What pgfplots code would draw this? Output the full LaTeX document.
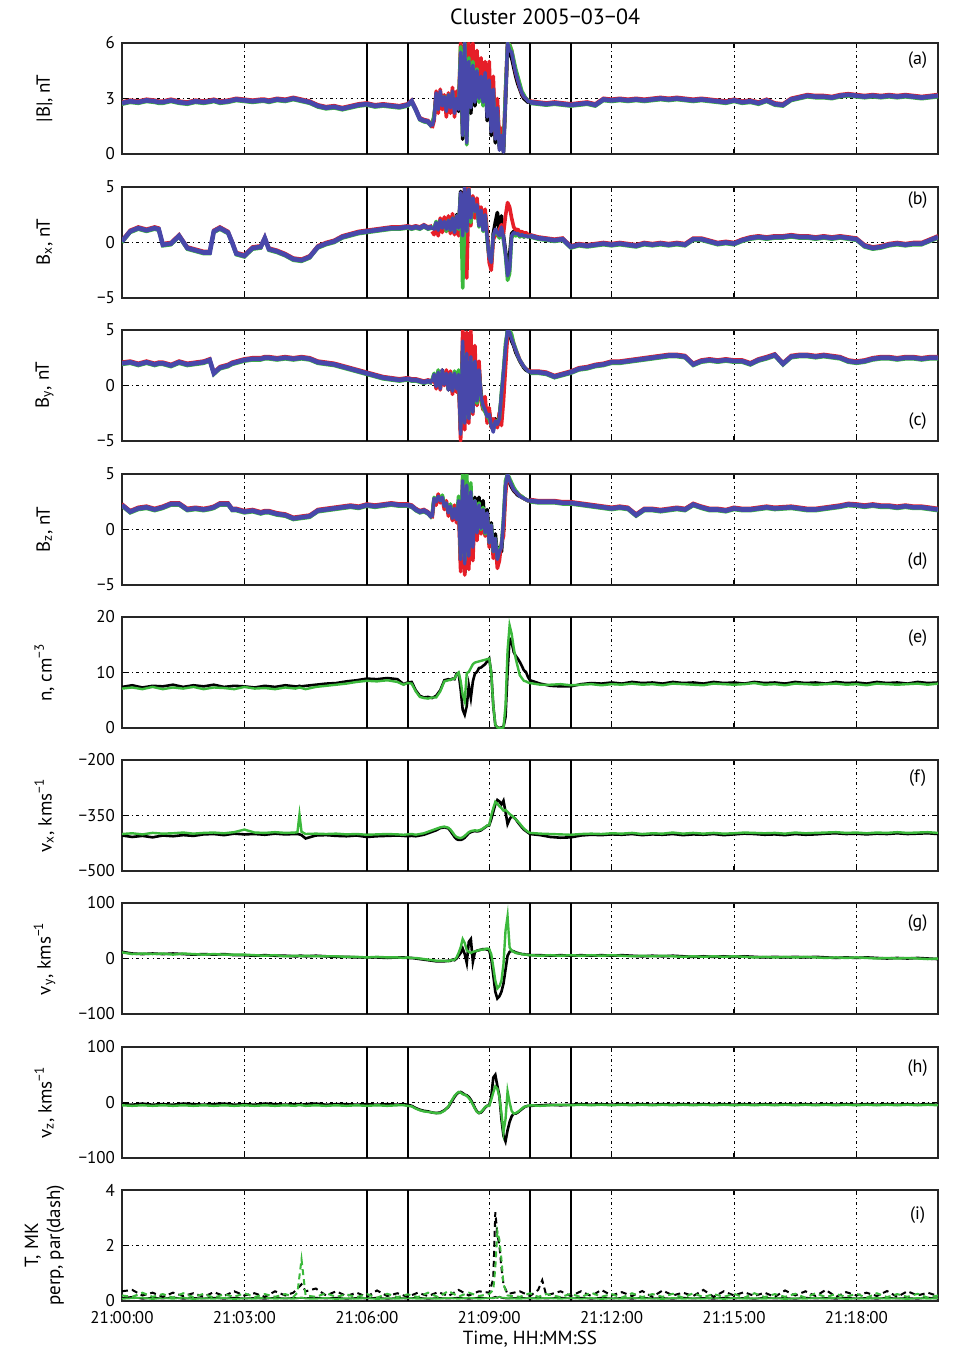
\documentclass[border=0pt]{standalone}
\usepackage{pgfplots}
\usepackage{pgfplotstable}
\pgfplotsset{compat=1.18}
\usepackage{fontspec}
\setmainfont{PT Sans}
\definecolor{cB}{RGB}{72,72,170}
\definecolor{cR}{RGB}{230,30,40}
\definecolor{cG}{RGB}{60,185,60}
\definecolor{cK}{RGB}{0,0,0}

% quiet magnetic field (blue reference), nan gap over the active interval
\pgfplotstableread{
t a b c d
0.0 2.75 0.1 2.0 2.2
0.2 2.85 1.0 2.1 1.6
0.4 2.8 1.3 1.9 1.9
0.6 2.9 1.1 2.1 2.0
0.8 2.85 1.3 1.9 1.8
0.9 2.8 1.2 2.0 1.9
1.0 2.8 -0.2 2.0 2.0
1.2 2.9 -0.1 1.8 2.3
1.4 2.8 0.6 2.1 2.3
1.6 2.75 -0.5 1.9 1.8
1.8 2.85 -0.7 2.0 1.9
2.0 2.8 -0.9 2.1 1.8
2.15 2.85 -0.9 2.3 1.9
2.25 2.9 1.0 1.1 2.0
2.4 2.8 1.3 1.6 2.3
2.6 2.85 0.9 1.8 2.3
2.7 2.9 0.0 2.0 1.8
2.8 2.95 -1.0 2.1 1.8
3.0 2.9 -1.2 2.3 1.6
3.2 2.85 -0.5 2.4 1.7
3.4 2.9 -0.4 2.4 1.5
3.5 2.9 0.4 2.5 1.6
3.6 2.85 -0.6 2.5 1.6
3.8 2.95 -0.8 2.4 1.4
4.0 2.9 -1.1 2.5 1.3
4.2 3.0 -1.5 2.4 1.0
4.4 2.9 -1.6 2.5 1.1
4.6 2.8 -1.3 2.4 1.2
4.8 2.6 -0.4 2.1 1.7
5.0 2.5 -0.1 2.0 1.8
5.2 2.55 0.1 1.9 1.9
5.4 2.45 0.5 1.7 2.0
5.6 2.55 0.7 1.5 2.1
5.8 2.65 0.9 1.3 2.0
6.0 2.7 1.0 1.1 2.2
6.2 2.6 1.1 0.9 2.1
6.4 2.65 1.2 0.7 2.2
6.6 2.6 1.3 0.6 2.3
6.8 2.55 1.3 0.5 2.2
7.0 2.65 1.4 0.6 2.2
7.1 2.85 1.3 0.5 2.1
7.2 2.4 1.4 0.5 1.8
7.3 1.9 1.3 0.4 1.6
7.4 1.8 1.5 0.3 1.7
7.5 1.75 1.3 0.4 1.5
7.6 1.5 1.4 0.3 1.1
8.8 nan nan nan nan
10.0 2.8 0.6 1.2 2.6
10.2 2.75 0.4 1.2 2.5
10.4 2.7 0.3 1.1 2.5
10.6 2.75 0.2 0.8 2.5
10.8 2.7 0.3 1.0 2.4
11.0 2.65 -0.4 1.2 2.4
11.2 2.7 -0.2 1.5 2.3
11.4 2.75 -0.3 1.6 2.2
11.6 2.65 -0.2 1.8 2.1
11.8 2.95 -0.1 1.9 2.0
12.0 2.9 -0.2 2.1 1.9
12.2 2.95 -0.1 2.1 2.0
12.4 2.9 -0.2 2.2 1.9
12.6 2.95 -0.3 2.3 1.3
12.8 2.9 -0.1 2.4 1.8
13.0 2.95 -0.2 2.5 1.8
13.2 3.0 -0.1 2.6 1.7
13.4 2.95 -0.2 2.7 1.8
13.6 3.0 -0.1 2.7 1.9
13.8 2.95 -0.2 2.6 1.8
14.0 2.9 0.3 1.9 2.25
14.2 2.95 0.3 2.2 2.0
14.4 2.9 0.1 2.3 1.8
14.6 2.85 -0.1 2.2 1.8
14.8 2.8 0.0 2.3 1.7
15.0 2.9 -0.1 2.2 1.9
15.2 2.8 0.2 2.2 1.8
15.4 2.85 0.4 1.95 1.8
15.6 2.75 0.5 2.3 1.9
15.8 2.9 0.4 2.5 2.0
16.0 2.7 0.5 2.75 1.9
16.2 2.65 0.5 1.95 1.95
16.4 2.95 0.6 2.6 2.0
16.6 3.05 0.5 2.7 1.9
16.8 3.15 0.5 2.7 1.8
17.0 3.1 0.4 2.6 1.8
17.2 3.1 0.5 2.7 1.9
17.4 3.05 0.4 2.6 2.0
17.6 3.15 0.5 2.5 2.1
17.8 3.2 0.4 2.2 2.25
18.0 3.15 0.3 2.1 2.2
18.2 3.1 -0.3 2.2 2.1
18.4 3.15 -0.5 2.4 2.2
18.6 3.1 -0.4 2.5 2.1
18.8 3.15 -0.2 2.5 2.1
19.0 3.1 -0.1 2.4 2.0
19.2 3.15 -0.2 2.5 2.1
19.4 3.1 -0.1 2.5 2.0
19.6 3.05 -0.1 2.4 2.0
19.8 3.1 0.2 2.5 1.9
20.0 3.15 0.5 2.5 1.8
}\Bq

% active interval, four spacecraft (k r g b) for |B|, Bx, By, Bz
\pgfplotstableread{
t ak ar ag ab bk br bg bb ck cr cg cb dk dr dg db
7.60 1.6 1.4 1.6 1.5 1.4 1.0 1.5 1.4 0.4 0.2 0.5 0.3 1.2 1.0 1.3 1.1
7.65 2.0 1.8 2.1 1.9 1.2 0.7 1.3 1.2 1.0 0.8 1.1 1.0 2.8 2.6 2.9 2.8
7.70 3.2 3.4 3.0 3.3 1.8 1.6 1.9 1.8 0.0 -0.3 0.1 -0.1 2.4 2.2 2.6 2.5
7.75 2.5 2.2 2.6 2.4 1.0 0.6 1.2 1.1 1.3 1.0 1.4 1.2 3.0 3.2 2.9 3.0
7.80 3.3 3.5 3.2 3.4 2.0 2.2 1.9 2.0 -0.2 -0.4 0.0 -0.3 2.6 2.4 2.7 2.6
7.85 2.7 2.4 2.8 2.6 1.2 0.9 1.4 1.3 1.4 1.2 1.3 1.4 3.0 2.8 3.1 2.9
7.90 3.0 3.2 3.1 3.1 1.9 2.3 1.8 1.9 0.2 0.0 0.4 0.1 2.0 1.8 2.2 2.1
7.95 2.4 2.0 2.5 2.3 1.1 1.0 1.0 1.2 1.2 1.4 1.0 1.1 2.4 2.6 2.3 2.4
8.00 3.1 3.3 3.2 3.2 2.1 2.4 2.0 2.0 -0.4 -0.2 -0.3 -0.4 1.4 1.2 1.6 1.5
8.05 2.6 2.2 2.6 2.5 1.0 0.8 1.1 1.1 1.0 1.3 0.9 1.1 2.2 2.0 2.3 2.1
8.10 3.3 3.6 3.3 3.4 2.3 2.6 2.2 2.2 -0.6 -0.8 -0.4 -0.5 0.9 0.8 1.1 1.0
8.15 2.3 2.0 2.4 2.2 0.9 0.7 1.0 0.9 1.2 1.0 1.3 1.1 2.0 2.2 1.8 1.9
8.20 3.0 3.4 2.9 3.0 2.5 2.0 2.4 2.4 -0.2 -0.6 0.0 -0.3 0.8 0.6 1.0 0.9
8.25 2.3 2.6 2.5 2.4 1.4 0.6 1.2 1.3 0.8 0.6 1.4 1.0 2.4 2.0 3.0 2.6
8.30 5.2 6.0 5.8 5.5 4.6 3.8 4.4 4.5 -4.2 -5.0 -3.6 -4.4 -3.0 -3.8 -2.4 -2.7
8.35 0.8 1.5 1.0 1.0 0.8 0.2 -4.1 0.6 3.6 5.0 3.2 4.0 4.0 4.6 5.0 4.4
8.40 5.8 6.0 6.0 6.0 5.0 5.0 2.0 5.0 -2.8 -4.0 -3.0 -3.4 -3.9 -4.1 -2.8 -3.1
8.45 1.0 1.8 0.5 0.6 1.2 -3.2 1.0 1.0 2.6 4.8 2.2 2.9 3.6 3.2 5.0 4.0
8.50 4.8 6.0 5.2 5.0 4.6 5.0 4.8 4.8 -2.6 -3.4 -2.8 -3.0 -2.6 -3.6 -1.8 -2.4
8.55 2.2 3.8 2.6 2.5 2.0 1.5 1.8 2.2 3.2 5.0 2.4 2.6 3.2 2.6 4.2 3.4
8.60 4.6 6.0 5.0 4.8 4.0 4.2 3.8 4.0 -1.8 -2.6 -2.2 -2.4 -1.4 -2.8 -1.0 -1.6
8.65 2.6 3.5 2.9 2.8 2.6 2.2 2.8 2.8 2.4 3.6 2.0 2.2 2.9 2.2 2.6 2.6
8.70 4.4 5.6 4.6 4.5 3.6 4.0 3.2 3.4 -1.0 -1.8 -1.6 -1.4 -0.4 -1.0 -0.2 -0.3
8.75 3.1 3.4 2.8 3.0 1.6 2.2 1.4 1.5 1.6 2.2 1.2 1.4 2.9 2.0 2.4 2.2
8.80 4.3 5.2 4.0 4.2 3.0 3.2 2.8 2.9 -0.8 -1.4 -1.2 -1.0 0.2 -0.4 0.0 0.1
8.85 2.9 3.0 2.6 2.8 1.2 1.6 1.0 1.1 -1.4 -2.2 -2.0 -1.8 2.6 1.6 2.0 1.8
8.90 4.6 5.0 4.2 4.4 2.6 3.0 2.4 2.5 -1.8 -1.0 -2.4 -2.2 -0.2 -0.6 -0.4 -0.3
8.95 1.8 2.6 2.4 2.0 0.6 1.0 0.2 0.4 -2.6 -3.4 -2.8 -2.8 1.8 1.2 1.4 1.5
9.00 4.2 5.0 3.8 4.0 -1.4 -1.8 -1.2 -1.3 -2.4 -2.0 -3.0 -2.6 -1.0 -1.6 -1.2 -1.2
9.05 1.0 1.8 1.5 1.2 -2.0 -2.5 -1.6 -1.8 -3.4 -3.8 -3.6 -3.6 0.6 0.0 0.4 0.4
9.10 3.6 4.2 3.2 3.5 0.8 0.2 0.6 0.6 -3.8 -3.0 -4.0 -4.2 -1.8 -2.6 -2.0 -2.0
9.15 0.6 1.0 1.2 0.8 1.8 0.8 1.0 1.2 -3.0 -3.2 -3.4 -3.2 -0.4 -1.2 -0.8 -0.8
9.20 2.6 3.0 2.2 2.5 2.7 0.6 0.8 0.9 -3.6 -3.8 -3.2 -3.5 -2.4 -3.5 -2.6 -2.7
9.25 0.3 0.8 0.5 0.2 1.0 1.2 0.4 0.6 -2.8 -2.4 -3.0 -3.0 -1.6 -2.8 -1.8 -2.0
9.30 1.2 1.4 0.9 1.0 2.4 1.6 1.2 1.4 -1.0 -3.6 -0.6 -0.8 -2.0 -1.2 -1.4 -1.6
9.35 0.1 0.4 0.3 0.1 0.6 0.8 0.2 0.4 1.0 -1.4 1.4 1.2 0.4 -0.6 1.0 0.8
9.40 2.8 3.4 3.4 3.0 -0.8 2.4 -1.2 -1.0 3.2 1.6 3.8 3.4 3.8 3.2 4.4 4.0
9.45 5.8 6.0 6.0 6.0 -2.6 3.6 -3.4 -3.0 5.0 4.6 5.0 5.0 5.0 5.0 5.0 5.0
9.50 5.4 5.9 5.9 5.6 -1.2 3.2 -2.8 -2.4 4.6 5.0 5.0 4.8 4.2 4.4 4.6 4.4
9.55 5.2 5.6 5.6 5.5 0.8 2.2 0.4 0.6 4.0 4.4 4.6 4.2 3.8 4.0 4.2 4.0
9.60 4.7 5.0 5.1 4.9 1.0 1.4 0.8 0.9 3.6 3.8 3.8 3.7 3.5 3.6 3.8 3.6
9.65 4.2 4.4 4.6 4.4 0.7 1.1 0.6 0.8 3.0 3.2 3.3 3.2 3.3 3.4 3.5 3.4
9.70 3.8 4.0 4.2 4.0 0.9 1.2 0.8 0.8 2.6 2.8 2.7 2.7 3.1 3.2 3.3 3.2
9.75 3.5 3.6 3.8 3.6 0.6 0.9 0.5 0.6 2.2 2.3 2.3 2.3 3.0 3.1 3.0 3.0
9.80 3.2 3.3 3.4 3.3 0.8 1.0 0.7 0.7 1.9 2.0 2.0 2.0 2.9 2.9 3.0 2.9
9.85 3.0 3.1 3.2 3.1 0.5 0.8 0.5 0.6 1.6 1.7 1.7 1.7 2.8 2.8 2.8 2.8
9.90 2.9 3.0 3.0 3.0 0.7 0.9 0.6 0.6 1.4 1.5 1.5 1.5 2.7 2.7 2.7 2.7
9.95 2.8 2.9 2.9 2.85 0.6 0.7 0.5 0.5 1.3 1.4 1.3 1.3 2.6 2.6 2.6 2.6
10.00 2.8 2.8 2.8 2.8 0.6 0.6 0.6 0.6 1.2 1.2 1.2 1.2 2.6 2.6 2.6 2.6
}\Ba

% plasma moments: n, vx, vy, vz (black and green)
\pgfplotstableread{
t ek eg fk fg gk gg hk hg
0.00 7.4 7.1 -404 -400 12 11 -3 -5
0.25 7.7 7.3 -408 -398 9 8 -4 -6
0.50 7.3 7.0 -405 -401 8 9 -2 -5
0.75 7.6 7.4 -409 -397 9 8 -4 -6
1.00 7.5 7.0 -404 -399 8 9 -3 -5
1.25 7.8 7.3 -406 -398 9 7 -4 -6
1.50 7.4 7.1 -403 -396 8 9 -2 -5
1.75 7.7 7.4 -405 -399 7 8 -3 -6
2.00 7.5 7.0 -401 -397 8 7 -4 -5
2.25 7.8 7.3 -400 -396 7 8 -3 -6
2.50 7.4 7.2 -403 -398 8 7 -2 -5
2.75 7.6 7.0 -399 -395 6 7 -4 -6
3.00 7.5 7.4 -401 -388 6 7 -3 -5
3.25 7.3 7.1 -400 -396 5 6 -4 -6
3.50 7.6 7.2 -402 -397 6 5 -2 -5
3.75 7.4 7.0 -399 -395 5 6 -3 -6
4.00 7.7 7.3 -401 -397 5 4 -4 -5
4.25 7.5 7.1 -400 -396 4 5 -3 -6
4.30 7.5 7.2 -400 -395 4 5 -3 -5
4.35 7.6 7.3 -401 -348 5 5 -3 -5
4.40 7.5 7.2 -403 -394 5 4 -4 -5
4.50 7.6 7.0 -412 -400 4 5 -3 -6
4.75 7.8 7.4 -404 -399 5 4 -2 -5
5.00 8.0 7.6 -403 -400 4 4 -4 -6
5.25 8.1 7.8 -405 -399 3 4 -3 -5
5.50 8.4 8.0 -406 -401 3 3 -3 -6
5.75 8.6 8.3 -404 -400 2 3 -4 -5
6.00 8.9 8.5 -408 -402 2 2 -3 -6
6.25 8.8 8.4 -406 -401 2 3 -4 -5
6.50 9.0 8.6 -405 -400 1 2 -3 -6
6.75 8.8 8.3 -404 -401 2 2 -4 -5
6.90 7.9 7.8 -405 -402 2 1 -3 -5
7.00 8.2 8.1 -406 -401 1 2 -4 -6
7.10 8.3 8.0 -405 -400 1 1 -6 -7
7.20 6.8 6.6 -406 -402 0 1 -10 -11
7.30 5.8 5.6 -404 -400 -1 0 -13 -14
7.40 5.5 5.4 -402 -398 -2 -1 -15 -16
7.50 5.6 5.3 -398 -394 -3 -2 -16 -17
7.60 5.4 5.5 -394 -390 -4 -3 -18 -18
7.70 5.8 5.5 -390 -386 -5 -4 -19 -19
7.80 6.8 6.6 -384 -382 -5 -4 -18 -19
7.90 8.6 8.4 -382 -380 -5 -4 -14 -15
8.00 8.8 8.6 -385 -383 -4 -5 -8 -7
8.05 8.7 8.7 -392 -388 -4 -3 -2 0
8.10 8.9 8.8 -400 -395 -2 -3 4 6
8.15 8.8 8.9 -408 -403 -3 -2 10 12
8.20 9.8 9.6 -414 -408 0 2 15 16
8.25 9.9 10.0 -416 -410 5 10 18 19
8.30 7.0 8.5 -416 -411 10 20 19 18
8.35 3.3 6.0 -414 -409 18 35 17 15
8.40 2.4 4.8 -410 -405 8 28 14 14
8.45 4.0 9.9 -404 -400 -8 15 13 12
8.50 7.6 10.1 -398 -395 30 12 10 8
8.55 5.4 10.8 -395 -392 35 10 5 3
8.60 8.4 11.5 -393 -391 -6 12 -2 -4
8.65 9.8 11.8 -392 -390 12 13 -10 -11
8.70 10.1 11.9 -393 -391 14 14 -16 -17
8.75 10.8 12.0 -392 -390 15 15 -19 -19
8.80 10.9 12.1 -390 -388 16 16 -18 -17
8.85 11.2 12.2 -386 -385 17 16 -14 -13
8.90 11.5 12.3 -382 -381 17 17 -9 -8
8.95 12.0 12.4 -378 -377 16 18 -6 -6
9.00 12.5 12.5 -377 -376 15 17 -5 -6
9.05 10.0 10.0 -360 -350 0 8 10 5
9.10 4.0 4.0 -340 -330 -30 -15 45 18
9.15 0.5 0.6 -320 -313 -60 -40 50 29
9.20 0.1 0.1 -308 -318 -72 -54 30 25
9.25 0.0 0.0 -312 -325 -68 -50 12 10
9.30 0.1 0.0 -320 -330 -60 -40 -30 -20
9.35 0.2 0.1 -310 -337 -45 -10 -60 -53
9.40 2.0 4.0 -340 -335 -20 50 -70 -30
9.45 10.0 14.0 -373 -340 5 76 -50 20
9.50 16.1 18.5 -360 -346 12 20 -35 0
9.55 15.5 17.0 -352 -350 14 14 -25 -15
9.60 13.7 14.5 -355 -355 13 12 -20 -20
9.65 13.0 12.5 -360 -360 11 10 -20 -19
9.70 12.5 11.0 -368 -366 10 9 -18 -17
9.75 11.9 9.5 -375 -372 9 9 -15 -14
9.80 11.2 9.0 -382 -379 8 8 -12 -11
9.85 10.4 8.5 -388 -385 8 7 -9 -8
9.90 10.1 8.4 -392 -390 7 7 -7 -7
9.95 9.2 8.2 -396 -394 7 6 -6 -6
10.00 8.6 8.1 -400 -397 6 6 -6 -5
10.25 8.0 7.8 -403 -399 6 5 -5 -6
10.50 7.6 7.8 -408 -400 5 6 -4 -5
10.75 7.5 7.9 -410 -401 6 5 -5 -4
11.00 7.5 7.7 -409 -402 5 6 -4 -5
11.25 7.9 7.8 -404 -400 6 5 -3 -4
11.50 8.1 7.9 -402 -399 5 6 -4 -5
11.75 8.0 7.7 -403 -400 6 5 -3 -4
12.00 8.2 7.9 -401 -398 5 6 -4 -5
12.25 8.0 7.8 -402 -399 6 5 -3 -4
12.50 8.3 8.0 -400 -397 5 4 -4 -5
12.75 8.1 7.8 -403 -400 4 5 -3 -4
13.00 8.2 7.9 -401 -398 5 4 -4 -5
13.25 8.0 7.7 -402 -399 4 5 -3 -4
13.50 8.3 8.0 -400 -396 5 4 -4 -5
13.75 8.1 7.9 -403 -399 4 3 -3 -4
14.00 8.2 7.8 -401 -397 3 4 -4 -5
14.25 8.0 7.7 -402 -399 4 3 -3 -4
14.50 8.3 8.0 -400 -397 3 4 -4 -5
14.75 8.1 7.9 -403 -399 4 3 -3 -4
15.00 8.2 7.8 -401 -398 3 4 -4 -5
15.25 8.0 7.9 -399 -396 4 3 -3 -4
15.50 8.3 8.1 -400 -397 3 2 -4 -5
15.75 8.1 7.8 -402 -398 2 3 -3 -4
16.00 8.2 7.9 -401 -397 3 2 -4 -5
16.25 8.0 7.7 -403 -399 2 3 -3 -4
16.50 8.3 8.0 -400 -396 3 2 -4 -5
16.75 8.1 7.9 -402 -398 2 3 -3 -4
17.00 8.2 7.8 -401 -397 3 2 -4 -5
17.25 8.0 7.9 -399 -396 2 1 -3 -4
17.50 8.3 8.0 -398 -395 1 2 -4 -5
17.75 8.1 7.8 -400 -397 2 1 -3 -4
18.00 8.2 7.9 -399 -396 1 2 -4 -5
18.25 8.0 7.7 -401 -398 2 1 -3 -4
18.50 8.3 8.0 -399 -396 1 0 -4 -5
18.75 8.1 7.9 -400 -397 0 1 -3 -4
19.00 8.2 7.8 -398 -395 1 0 -4 -5
19.25 8.0 7.9 -400 -397 0 1 -3 -4
19.50 8.3 8.0 -399 -396 1 0 -4 -5
19.75 8.1 7.8 -398 -395 0 -1 -3 -4
20.00 8.2 8.0 -400 -397 -1 0 -4 -5
}\Pl

% temperature: perp (solid) and par (dashed), black and green
\pgfplotstableread{
t pk pg qk qg
0.00 0.10 0.08 0.35 0.20
0.25 0.15 0.10 0.40 0.15
0.50 0.08 0.12 0.20 0.30
0.75 0.12 0.07 0.30 0.15
1.00 0.09 0.11 0.15 0.25
1.25 0.13 0.08 0.30 0.12
1.50 0.08 0.12 0.18 0.28
1.75 0.11 0.07 0.28 0.14
2.00 0.09 0.10 0.15 0.26
2.25 0.12 0.08 0.32 0.12
2.50 0.08 0.11 0.18 0.24
2.75 0.12 0.07 0.35 0.15
3.00 0.09 0.10 0.20 0.28
3.25 0.11 0.08 0.28 0.14
3.50 0.08 0.12 0.15 0.25
3.75 0.12 0.08 0.35 0.15
4.00 0.09 0.10 0.20 0.25
4.20 0.11 0.08 0.30 0.15
4.30 0.10 0.10 0.45 0.30
4.40 0.12 0.12 0.60 1.50
4.50 0.10 0.09 0.35 0.20
4.75 0.12 0.08 0.45 0.15
5.00 0.09 0.11 0.20 0.28
5.25 0.12 0.07 0.35 0.15
5.50 0.08 0.10 0.18 0.24
5.75 0.11 0.08 0.30 0.14
6.00 0.09 0.11 0.15 0.25
6.25 0.12 0.07 0.38 0.12
6.50 0.08 0.10 0.18 0.26
6.75 0.11 0.08 0.28 0.14
7.00 0.09 0.11 0.15 0.24
7.25 0.12 0.08 0.30 0.14
7.50 0.08 0.10 0.18 0.30
7.75 0.11 0.08 0.32 0.14
8.00 0.09 0.11 0.18 0.36
8.25 0.12 0.08 0.40 0.16
8.50 0.08 0.12 0.20 0.30
8.75 0.12 0.08 0.35 0.18
9.00 0.10 0.11 0.30 0.25
9.10 0.12 0.10 0.80 0.40
9.15 0.15 0.12 3.20 1.20
9.20 0.12 0.12 2.40 2.50
9.25 0.15 0.15 2.00 2.20
9.30 0.12 0.12 1.20 1.50
9.35 0.10 0.12 0.60 0.60
9.45 0.09 0.10 0.25 0.20
9.75 0.12 0.08 0.35 0.15
10.00 0.09 0.11 0.18 0.28
10.20 0.11 0.08 0.40 0.15
10.30 0.10 0.10 0.75 0.20
10.40 0.09 0.11 0.20 0.25
10.75 0.12 0.08 0.35 0.14
11.00 0.09 0.11 0.18 0.26
11.25 0.12 0.08 0.35 0.14
11.50 0.08 0.11 0.18 0.30
11.75 0.12 0.07 0.40 0.15
12.00 0.09 0.10 0.20 0.25
12.25 0.11 0.08 0.32 0.12
12.50 0.08 0.12 0.18 0.28
12.75 0.12 0.08 0.36 0.14
13.00 0.09 0.10 0.15 0.25
13.25 0.11 0.07 0.38 0.15
13.50 0.08 0.11 0.20 0.26
13.75 0.12 0.08 0.30 0.12
14.00 0.09 0.10 0.18 0.28
14.25 0.11 0.08 0.40 0.14
14.50 0.08 0.12 0.15 0.25
14.75 0.12 0.07 0.35 0.15
15.00 0.09 0.11 0.20 0.26
15.25 0.11 0.08 0.32 0.12
15.50 0.08 0.10 0.18 0.28
15.75 0.12 0.08 0.30 0.14
16.00 0.09 0.11 0.15 0.25
16.25 0.11 0.07 0.38 0.15
16.50 0.08 0.10 0.20 0.26
16.75 0.12 0.08 0.35 0.12
17.00 0.09 0.11 0.18 0.28
17.25 0.11 0.08 0.40 0.14
17.50 0.08 0.12 0.15 0.25
17.75 0.12 0.07 0.32 0.15
18.00 0.09 0.10 0.20 0.26
18.25 0.11 0.08 0.30 0.12
18.50 0.08 0.11 0.18 0.28
18.75 0.12 0.08 0.36 0.14
19.00 0.09 0.10 0.15 0.25
19.25 0.11 0.07 0.35 0.15
19.50 0.08 0.11 0.20 0.26
19.75 0.12 0.08 0.30 0.12
20.00 0.09 0.10 0.18 0.20
}\Tt

\pgfplotsset{
  panel/.style={
    scale only axis, width=408pt, height=55.5pt, anchor=north west,
    xmin=0, xmax=20, xtick={0,3,...,18}, xticklabels={},
    xmajorgrids, ymajorgrids,
    major grid style={black, line width=0.5pt, dash pattern=on 0.5pt off 1.6pt on 1.4pt off 1.6pt},
    extra x ticks={6,7,10,11}, extra x tick labels={},
    extra x tick style={grid=major, major grid style={solid, black, line width=0.9pt}, major tick length=0pt},
    axis line style={line width=0.9pt, black!85},
    tick align=inside, major tick length=2.5pt, tick style={black, line width=0.6pt},
    tick label style={font=\fontsize{8.5}{10}\selectfont},
    label style={font=\fontsize{9.5}{11}\selectfont},
    ylabel style={at={(axis description cs:-0.095,0.5)}, anchor=center, align=center},
    unbounded coords=jump,
    /pgf/number format/assume math mode=true,
  },
}
\newcommand\plab[2]{\node[font=\fontsize{9}{10}\selectfont] at (rel axis cs:0.975,#1) {#2};}
\newcommand\Bpanel[2]{%
  \addplot[cK, line width=1.6pt] table[x=t,y=#1]{\Bq};
  \addplot[cR, line width=1.6pt, yshift=0.65pt] table[x=t,y=#1]{\Bq};
  \addplot[cG, line width=1.6pt, yshift=-0.65pt] table[x=t,y=#1]{\Bq};
  \addplot[cK, line width=1.8pt, line join=round] table[x=t,y=#2k]{\Ba};
  \addplot[cR, line width=1.8pt, line join=round] table[x=t,y=#2r]{\Ba};
  \addplot[cG, line width=1.8pt, line join=round] table[x=t,y=#2g]{\Ba};
  \addplot[cB, line width=2.3pt] table[x=t,y=#1]{\Bq};
  \addplot[cB, line width=1.7pt, line join=round] table[x=t,y=#2b]{\Ba};
}
\newcommand\Ppanel[2]{%
  \addplot[cK, line width=1.3pt] table[x=t,y=#1]{\Pl};
  \addplot[cG, line width=1.2pt] table[x=t,y=#2]{\Pl};
}

\begin{document}
\begin{tikzpicture}
\path[use as bounding box] (0,0) rectangle (486.5pt,-677pt);
\node[font=\fontsize{11}{13}\selectfont] at (272.5pt,-8.5pt) {Cluster 2005−03−04};

\begin{axis}[panel, at={(61pt,-21.5pt)}, ymin=0, ymax=6, ytick={0,3,6}, ylabel={|B|, nT}]
\Bpanel{a}{a}
\plab{0.85}{(a)}
\end{axis}

\begin{axis}[panel, at={(61pt,-93.5pt)}, ymin=-5, ymax=5, ytick={-5,0,5}, yticklabels={−5,0,5}, ylabel={B\textsubscript{x}, nT}]
\Bpanel{b}{b}
\plab{0.88}{(b)}
\end{axis}

\begin{axis}[panel, at={(61pt,-165pt)}, ymin=-5, ymax=5, ytick={-5,0,5}, yticklabels={−5,0,5}, ylabel={B\textsubscript{y}, nT}]
\Bpanel{c}{c}
\plab{0.18}{(c)}
\end{axis}

\begin{axis}[panel, at={(61pt,-237pt)}, ymin=-5, ymax=5, ytick={-5,0,5}, yticklabels={−5,0,5}, ylabel={B\textsubscript{z}, nT}]
\Bpanel{d}{d}
\plab{0.22}{(d)}
\end{axis}

\begin{axis}[panel, at={(61pt,-308.5pt)}, ymin=0, ymax=20, ytick={0,10,20}, ylabel={n, cm\textsuperscript{−3}}]
\Ppanel{ek}{eg}
\plab{0.81}{(e)}
\end{axis}

\begin{axis}[panel, at={(61pt,-380pt)}, ymin=-500, ymax=-200, ytick={-500,-350,-200}, yticklabels={−500,−350,−200}, ylabel={v\textsubscript{x}, kms\textsuperscript{−1}}]
\Ppanel{fk}{fg}
\plab{0.84}{(f)}
\end{axis}

\begin{axis}[panel, at={(61pt,-451.5pt)}, ymin=-100, ymax=100, ytick={-100,0,100}, yticklabels={−100,0,100}, ylabel={v\textsubscript{y}, kms\textsuperscript{−1}}]
\Ppanel{gk}{gg}
\plab{0.82}{(g)}
\end{axis}

\begin{axis}[panel, at={(61pt,-523.5pt)}, ymin=-100, ymax=100, ytick={-100,0,100}, yticklabels={−100,0,100}, ylabel={v\textsubscript{z}, kms\textsuperscript{−1}}]
\Ppanel{hk}{hg}
\plab{0.81}{(h)}
\end{axis}

\begin{axis}[panel, at={(61pt,-595pt)}, ymin=0, ymax=4, ytick={0,2,4}, ylabel={T, MK\\perp, par(dash)},
  xticklabels={21:00:00,21:03:00,21:06:00,21:09:00,21:12:00,21:15:00,21:18:00},
  xticklabel style={yshift=-1.5pt}, xlabel={Time, HH:MM:SS}, xlabel style={yshift=3pt}]
\addplot[cK, line width=0.9pt] table[x=t,y=pk]{\Tt};
\addplot[cG, line width=0.9pt] table[x=t,y=pg]{\Tt};
\addplot[cK, line width=1.0pt, dash pattern=on 3pt off 2pt] table[x=t,y=qk]{\Tt};
\addplot[cG, line width=1.0pt, dash pattern=on 3pt off 2pt] table[x=t,y=qg]{\Tt};
\plab{0.77}{(i)}
\end{axis}
\end{tikzpicture}
\end{document}
